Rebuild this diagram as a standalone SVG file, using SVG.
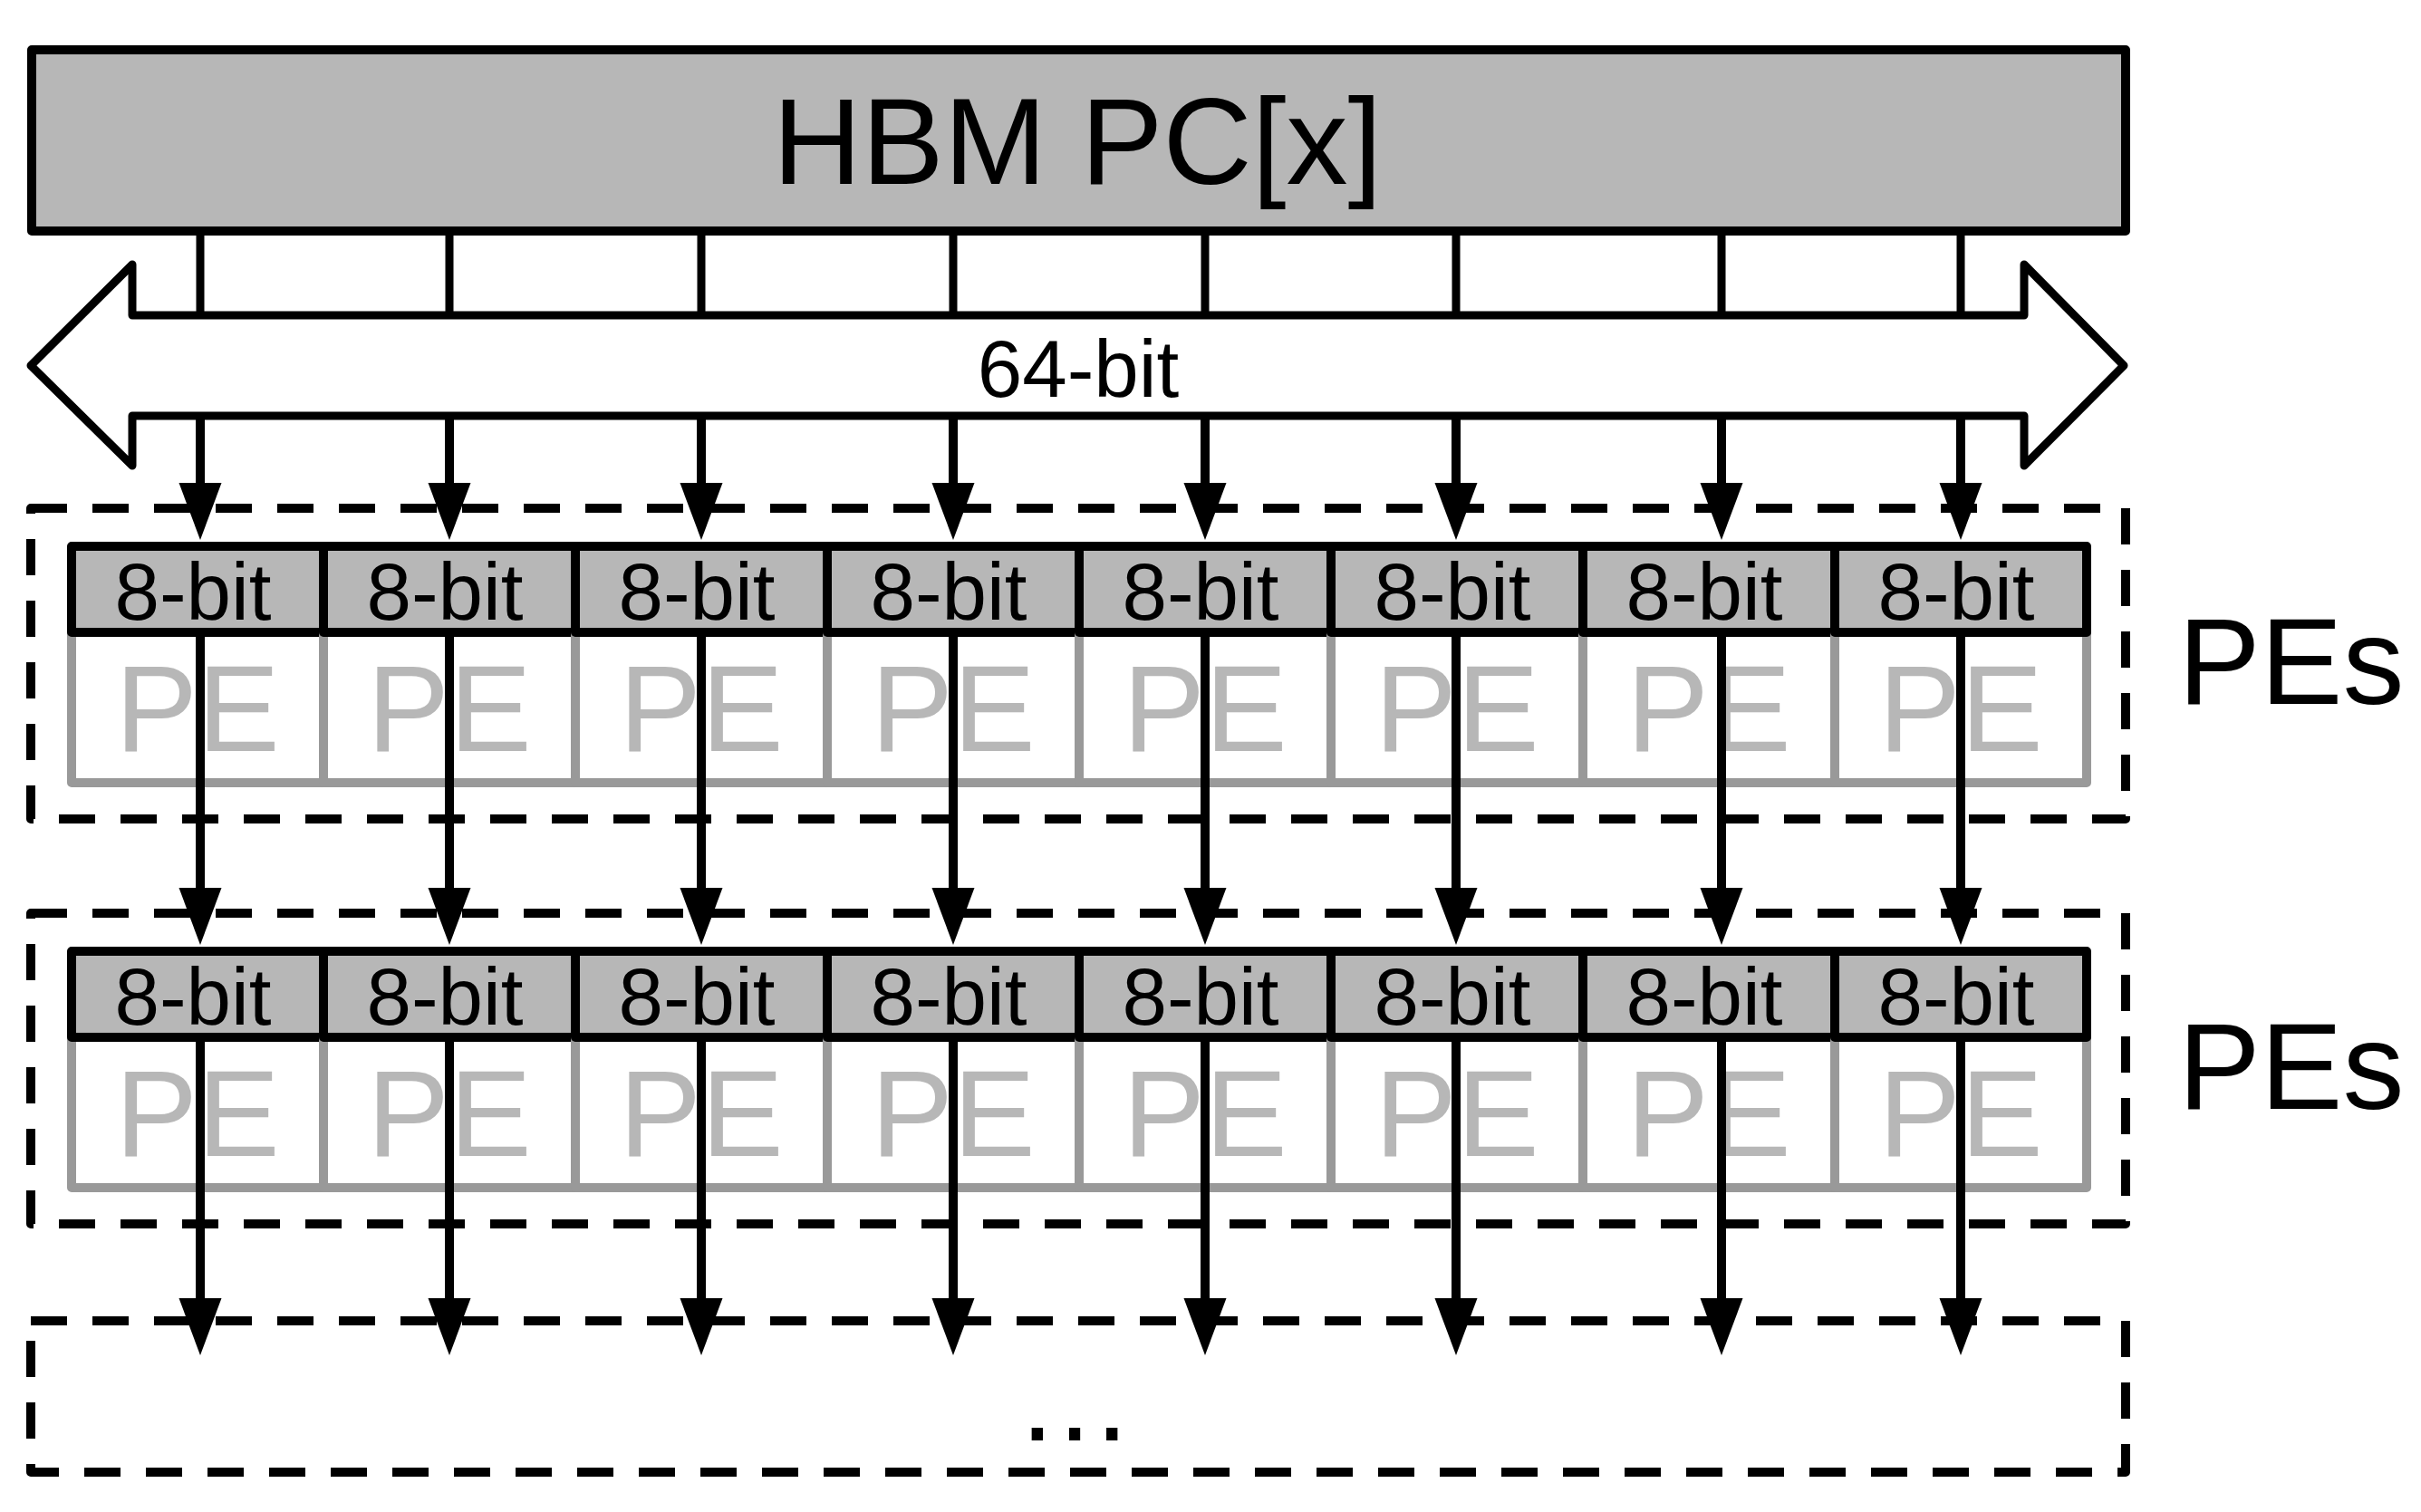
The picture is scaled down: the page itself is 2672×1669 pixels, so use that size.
<svg xmlns="http://www.w3.org/2000/svg" width="2672" height="1669" viewBox="0 0 2672 1669">
<style>
text{font-family:"Liberation Sans",Arial,sans-serif;}
.hbm{fill:#b7b7b7;stroke:#000;stroke-width:10;stroke-linejoin:round;}
.bus{fill:#fff;stroke:#000;stroke-width:9;stroke-linejoin:round;}
.box{fill:none;stroke:#000;stroke-width:10;stroke-dasharray:40 28;stroke-linejoin:round;}
.bit{fill:#b7b7b7;stroke:#000;stroke-width:10;stroke-linejoin:round;}
.pe{fill:#fff;stroke:#999;stroke-width:10;stroke-linejoin:round;}
.t8{font-size:89px;fill:#000;text-anchor:middle;}
.tpe{font-size:136px;fill:#b7b7b7;text-anchor:middle;}
.big{font-size:136px;fill:#000;}
.wire{stroke:#000;stroke-width:9;fill:none;}
.arr{stroke:#000;stroke-width:10;fill:none;marker-end:url(#ah);}
</style>
<defs>
<marker id="ah" markerUnits="userSpaceOnUse" markerWidth="64" markerHeight="48" refX="23" refY="23.5" orient="auto">
<path d="M0,0 L63,23.5 L0,47 Z" fill="#000"/>
</marker>
</defs>
<rect width="2672" height="1669" fill="#fff"/>

<g id="hbm">
<rect class="hbm" x="35" y="55" width="2311" height="200"/>
<text class="big" x="1189" y="203" text-anchor="middle" font-size="135">HBM PC[x]</text>
</g>

<g id="box1"><rect class="box" x="34" y="561" width="2312" height="343"/></g>
<g id="box2"><rect class="box" x="34" y="1008" width="2312" height="343"/></g>
<g id="box3"><rect class="box" x="34" y="1458" width="2312" height="167"/>
<text x="1186" y="1590" font-size="130" text-anchor="middle" fill="#000">…</text></g>

<g id="bus">
<polygon class="bus" points="34,403.5 146,292 146,348 2234,348 2234,292 2344,403.5 2234,514 2234,459 146,459 146,514"/>
<text x="1190" y="438" font-size="89" text-anchor="middle" fill="#000">64-bit</text>
</g>

<g id="row1">
<g id="r1c1"><path class="pe" d="M79,698V864H357V698"/><rect class="bit" x="79" y="603" width="278" height="95"/><text class="t8" x="213" y="684">8-bit</text><text class="tpe" x="218" y="829">PE</text></g>
<g id="r1c2"><path class="pe" d="M357,698V864H635V698"/><rect class="bit" x="357" y="603" width="278" height="95"/><text class="t8" x="491" y="684">8-bit</text><text class="tpe" x="496" y="829">PE</text></g>
<g id="r1c3"><path class="pe" d="M635,698V864H913V698"/><rect class="bit" x="635" y="603" width="278" height="95"/><text class="t8" x="769" y="684">8-bit</text><text class="tpe" x="774" y="829">PE</text></g>
<g id="r1c4"><path class="pe" d="M913,698V864H1191V698"/><rect class="bit" x="913" y="603" width="278" height="95"/><text class="t8" x="1047" y="684">8-bit</text><text class="tpe" x="1052" y="829">PE</text></g>
<g id="r1c5"><path class="pe" d="M1191,698V864H1469V698"/><rect class="bit" x="1191" y="603" width="278" height="95"/><text class="t8" x="1325" y="684">8-bit</text><text class="tpe" x="1330" y="829">PE</text></g>
<g id="r1c6"><path class="pe" d="M1469,698V864H1747V698"/><rect class="bit" x="1469" y="603" width="278" height="95"/><text class="t8" x="1603" y="684">8-bit</text><text class="tpe" x="1608" y="829">PE</text></g>
<g id="r1c7"><path class="pe" d="M1747,698V864H2025V698"/><rect class="bit" x="1747" y="603" width="278" height="95"/><text class="t8" x="1881" y="684">8-bit</text><text class="tpe" x="1886" y="829">PE</text></g>
<g id="r1c8"><path class="pe" d="M2025,698V864H2303V698"/><rect class="bit" x="2025" y="603" width="278" height="95"/><text class="t8" x="2159" y="684">8-bit</text><text class="tpe" x="2164" y="829">PE</text></g>
</g>
<g id="label1"><text class="big" x="2404" y="777">PEs</text></g>

<g id="row2">
<g id="r2c1"><path class="pe" d="M79,1145V1311H357V1145"/><rect class="bit" x="79" y="1050" width="278" height="95"/><text class="t8" x="213" y="1131">8-bit</text><text class="tpe" x="218" y="1276">PE</text></g>
<g id="r2c2"><path class="pe" d="M357,1145V1311H635V1145"/><rect class="bit" x="357" y="1050" width="278" height="95"/><text class="t8" x="491" y="1131">8-bit</text><text class="tpe" x="496" y="1276">PE</text></g>
<g id="r2c3"><path class="pe" d="M635,1145V1311H913V1145"/><rect class="bit" x="635" y="1050" width="278" height="95"/><text class="t8" x="769" y="1131">8-bit</text><text class="tpe" x="774" y="1276">PE</text></g>
<g id="r2c4"><path class="pe" d="M913,1145V1311H1191V1145"/><rect class="bit" x="913" y="1050" width="278" height="95"/><text class="t8" x="1047" y="1131">8-bit</text><text class="tpe" x="1052" y="1276">PE</text></g>
<g id="r2c5"><path class="pe" d="M1191,1145V1311H1469V1145"/><rect class="bit" x="1191" y="1050" width="278" height="95"/><text class="t8" x="1325" y="1131">8-bit</text><text class="tpe" x="1330" y="1276">PE</text></g>
<g id="r2c6"><path class="pe" d="M1469,1145V1311H1747V1145"/><rect class="bit" x="1469" y="1050" width="278" height="95"/><text class="t8" x="1603" y="1131">8-bit</text><text class="tpe" x="1608" y="1276">PE</text></g>
<g id="r2c7"><path class="pe" d="M1747,1145V1311H2025V1145"/><rect class="bit" x="1747" y="1050" width="278" height="95"/><text class="t8" x="1881" y="1131">8-bit</text><text class="tpe" x="1886" y="1276">PE</text></g>
<g id="r2c8"><path class="pe" d="M2025,1145V1311H2303V1145"/><rect class="bit" x="2025" y="1050" width="278" height="95"/><text class="t8" x="2159" y="1131">8-bit</text><text class="tpe" x="2164" y="1276">PE</text></g>
</g>
<g id="label2"><text class="big" x="2404" y="1224">PEs</text></g>

<g id="connectors">
<path class="wire" d="M221,260V348 M496,260V348 M774,260V348 M1052,260V348 M1330,260V348 M1607,260V348 M1900,260V348 M2164,260V348"/>
<line class="arr" x1="221" y1="463" x2="221" y2="556"/>
<line class="arr" x1="496" y1="463" x2="496" y2="556"/>
<line class="arr" x1="774" y1="463" x2="774" y2="556"/>
<line class="arr" x1="1052" y1="463" x2="1052" y2="556"/>
<line class="arr" x1="1330" y1="463" x2="1330" y2="556"/>
<line class="arr" x1="1607" y1="463" x2="1607" y2="556"/>
<line class="arr" x1="1900" y1="463" x2="1900" y2="556"/>
<line class="arr" x1="2164" y1="463" x2="2164" y2="556"/>
<line class="arr" x1="221" y1="703" x2="221" y2="1003"/>
<line class="arr" x1="496" y1="703" x2="496" y2="1003"/>
<line class="arr" x1="774" y1="703" x2="774" y2="1003"/>
<line class="arr" x1="1052" y1="703" x2="1052" y2="1003"/>
<line class="arr" x1="1330" y1="703" x2="1330" y2="1003"/>
<line class="arr" x1="1607" y1="703" x2="1607" y2="1003"/>
<line class="arr" x1="1900" y1="703" x2="1900" y2="1003"/>
<line class="arr" x1="2164" y1="703" x2="2164" y2="1003"/>
<line class="arr" x1="221" y1="1150" x2="221" y2="1456"/>
<line class="arr" x1="496" y1="1150" x2="496" y2="1456"/>
<line class="arr" x1="774" y1="1150" x2="774" y2="1456"/>
<line class="arr" x1="1052" y1="1150" x2="1052" y2="1456"/>
<line class="arr" x1="1330" y1="1150" x2="1330" y2="1456"/>
<line class="arr" x1="1607" y1="1150" x2="1607" y2="1456"/>
<line class="arr" x1="1900" y1="1150" x2="1900" y2="1456"/>
<line class="arr" x1="2164" y1="1150" x2="2164" y2="1456"/>
</g>
</svg>
